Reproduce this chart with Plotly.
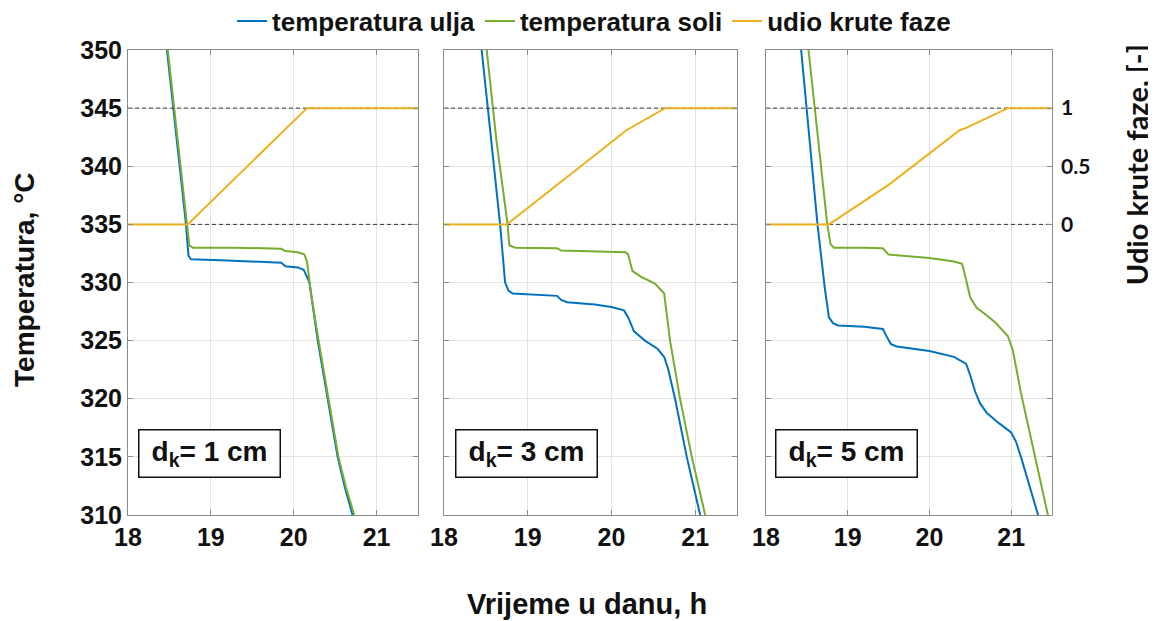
import plotly.graph_objects as go

# panel labels
panel_labels = ["d<sub>k</sub>= 1 cm", "d<sub>k</sub>= 3 cm", "d<sub>k</sub>= 5 cm"]

# d_k = 1 cm
oil1_t = [18.47, 18.60, 18.70, 18.73, 18.76, 19.2, 19.6, 19.85, 19.9, 20.05, 20.12, 20.16, 20.19, 20.29, 20.41, 20.53, 20.62, 20.71]
oil1_T = [350, 341.5, 335.0, 332.3, 332.0, 331.9, 331.8, 331.7, 331.4, 331.3, 331.1, 330.5, 330.0, 325, 320, 315, 312.3, 310]
salt1_t = [18.48, 18.61, 18.71, 18.74, 18.78, 19.3, 19.85, 19.9, 20.05, 20.13, 20.16, 20.18, 20.21, 20.30, 20.42, 20.54, 20.63, 20.73]
salt1_T = [350, 341.5, 335.0, 333.2, 333.0, 333.0, 332.9, 332.7, 332.6, 332.4, 331.8, 330.5, 329.0, 325, 320, 315, 312.4, 310]
frac1_t = [18.0, 18.72, 20.16, 21.5]
frac1 = [0, 0, 1, 1]

# d_k = 3 cm
oil2_t = [18.45, 18.56, 18.67, 18.73, 18.77, 18.82, 19.0, 19.35, 19.40, 19.47, 19.8, 20.0, 20.15, 20.2, 20.27, 20.4, 20.55, 20.63, 20.68, 20.76, 20.9, 21.06]
oil2_T = [350, 342.5, 335.0, 330.0, 329.3, 329.05, 329.0, 328.85, 328.5, 328.3, 328.1, 327.9, 327.6, 327.0, 325.8, 325.0, 324.3, 323.6, 322.5, 320, 315, 310]
salt2_t = [18.51, 18.63, 18.76, 18.78, 18.85, 19.35, 19.40, 19.8, 20.17, 20.2, 20.25, 20.35, 20.52, 20.63, 20.7, 20.82, 20.96, 21.12]
salt2_T = [350, 342.0, 335.0, 333.2, 333.0, 332.95, 332.75, 332.7, 332.6, 332.4, 331.0, 330.5, 329.9, 329.05, 325, 320, 315, 310]
frac2_t = [18.0, 18.75, 20.18, 20.64, 21.5]
frac2 = [0, 0, 0.81, 1, 1]

# d_k = 5 cm
oil3_t = [18.43, 18.53, 18.63, 18.72, 18.77, 18.82, 18.88, 19.2, 19.43, 19.48, 19.53, 19.6, 20.0, 20.3, 20.45, 20.5, 20.56, 20.62, 20.7, 20.85, 21.0, 21.06, 21.12, 21.33]
oil3_T = [350, 342.5, 335.0, 329.5, 327.0, 326.5, 326.3, 326.2, 326.0, 325.3, 324.7, 324.5, 324.1, 323.6, 323.0, 322.0, 320.6, 319.6, 318.8, 317.9, 317.1, 316.3, 315, 310]
salt3_t = [18.52, 18.64, 18.75, 18.79, 18.83, 19.2, 19.43, 19.5, 19.7, 20.0, 20.3, 20.4, 20.44, 20.5, 20.58, 20.66, 20.8, 20.96, 21.02, 21.08, 21.12, 21.45]
salt3_T = [350, 342.0, 335.0, 333.3, 333.0, 333.0, 332.95, 332.4, 332.3, 332.1, 331.8, 331.6, 330.5, 328.7, 327.8, 327.4, 326.6, 325.4, 324.2, 322.1, 320.5, 310]
frac3_t = [18.0, 18.77, 19.5, 20.37, 20.45, 20.96, 21.5]
frac3 = [0, 0, 0.34, 0.81, 0.83, 1, 1]

x_range = [18, 21.5]
x_ticks = [18, 19, 20, 21]
y_ticks = [310, 315, 320, 325, 330, 335, 340, 345, 350]
frac_ticks = [0, 0.5, 1]
frac_limits = [0, 1]

BLUE = "#0072BD"
GREEN = "#77AC30"
YELLOW = "#EDB120"

panels = [
    (oil1_t, oil1_T, salt1_t, salt1_T, frac1_t, frac1),
    (oil2_t, oil2_T, salt2_t, salt2_T, frac2_t, frac2),
    (oil3_t, oil3_T, salt3_t, salt3_T, frac3_t, frac3),
]

fig = go.Figure()
for i, (ot, oT, st, sT, ft, fv) in enumerate(panels):
    xa = "x" if i == 0 else f"x{i+1}"
    ya = "y" if i == 0 else f"y{i+1}"
    yf = f"y{i+4}"
    # dashed lines marking solid fraction 0 and 1
    for lv in frac_limits:
        fig.add_trace(go.Scatter(x=x_range, y=[lv, lv], xaxis=xa, yaxis=yf, mode="lines",
                                 line=dict(color="#333", width=1, dash="4px,3px"),
                                 showlegend=False, hoverinfo="skip"))
    fig.add_trace(go.Scatter(x=ot, y=oT, xaxis=xa, yaxis=ya, mode="lines", name="temperatura ulja",
                             line=dict(color=BLUE, width=2), showlegend=(i == 0), legendrank=1))
    fig.add_trace(go.Scatter(x=st, y=sT, xaxis=xa, yaxis=ya, mode="lines", name="temperatura soli",
                             line=dict(color=GREEN, width=2), showlegend=(i == 0), legendrank=2))
    fig.add_trace(go.Scatter(x=ft, y=fv, xaxis=xa, yaxis=yf, mode="lines", name="udio krute faze",
                             line=dict(color=YELLOW, width=2), showlegend=(i == 0), legendrank=3))

ARIAL = "Liberation Sans, Arial"
tick_font = dict(family=ARIAL, size=25, color="#111", weight="bold")
doms = [[0.10381, 0.35467], [0.37716, 0.63062], [0.65571, 0.90311]]
ydom = [0.18357, 0.93237]

layout = dict(
    width=1156, height=621,
    margin=dict(l=0, r=0, t=0, b=0, autoexpand=False),
    paper_bgcolor="white", plot_bgcolor="white",
    showlegend=True,
    legend=dict(orientation="h", x=0.507, xanchor="center", y=0.979, yanchor="middle",
                font=dict(family=ARIAL, size=26, color="#111", weight="bold"),
                itemwidth=30, tracegroupgap=0, bgcolor="rgba(0,0,0,0)"),
)

for i in range(3):
    sx = "" if i == 0 else str(i + 1)
    layout[f"xaxis{sx}"] = dict(
        domain=doms[i], anchor="y" + sx, range=x_range, tickvals=x_ticks,
        showgrid=True, gridcolor="#e3e3e3", gridwidth=1,
        showline=True, linecolor="#8a8a8a", linewidth=1, mirror="ticks",
        ticks="inside", ticklen=5, tickcolor="#8a8a8a",
        tickfont=tick_font, zeroline=False, automargin=False,
    )
    layout[f"yaxis{sx}"] = dict(
        domain=ydom, anchor="x" + sx, range=[310, 350], tickvals=y_ticks,
        showticklabels=(i == 0),
        showgrid=True, gridcolor="#e3e3e3", gridwidth=1,
        showline=True, linecolor="#8a8a8a", linewidth=1, mirror="ticks",
        ticks="inside", ticklen=5, tickcolor="#8a8a8a",
        tickfont=tick_font, zeroline=False, automargin=False,
    )
    overl = "y" if i == 0 else f"y{i+1}"
    ax = dict(overlaying=overl, anchor="x" + sx, range=[-2.5, 1.5],
              showgrid=False, zeroline=False, showline=False, automargin=False)
    if i < 2:
        ax["visible"] = False
    else:
        ax.update(side="right", tickvals=frac_ticks, ticktext=["0", "0.5", "1"], ticks="",
                  ticklabelstandoff=8,
                  tickfont=dict(family="Lato, Open Sans", size=21, color="#111", weight="bold"))
    layout[f"yaxis{i+4}"] = ax

fig.update_layout(**layout)

for i in range(3):
    sx = "" if i == 0 else str(i + 1)
    fig.add_annotation(x=18.98, y=315.3, xref=f"x{sx}", yref=f"y{sx}", text=panel_labels[i],
                       showarrow=False, bgcolor="white", bordercolor="#111", borderwidth=1.5,
                       width=130, height=36, borderpad=5,
                       font=dict(family=ARIAL, size=28, color="#111", weight="bold"))

fig.add_annotation(x=0.0138, y=0.5636, xref="paper", yref="paper", xanchor="center", yanchor="middle",
                   text="Temperatura, °C", textangle=-90, showarrow=False,
                   font=dict(family=ARIAL, size=28, color="#111", weight="bold"))
fig.add_annotation(x=0.9758, y=0.747, xref="paper", yref="paper", xanchor="center", yanchor="middle",
                   text="Udio krute faze, [-]", textangle=-90, showarrow=False,
                   font=dict(family="Lato, Open Sans", size=29, color="#111", weight="bold"))
fig.add_annotation(x=0.5009, y=0.040, xref="paper", yref="paper", xanchor="center", yanchor="middle",
                   text="Vrijeme u danu, h", showarrow=False,
                   font=dict(family=ARIAL, size=29, color="#111", weight="bold"))

fig.write_html("out.html")
